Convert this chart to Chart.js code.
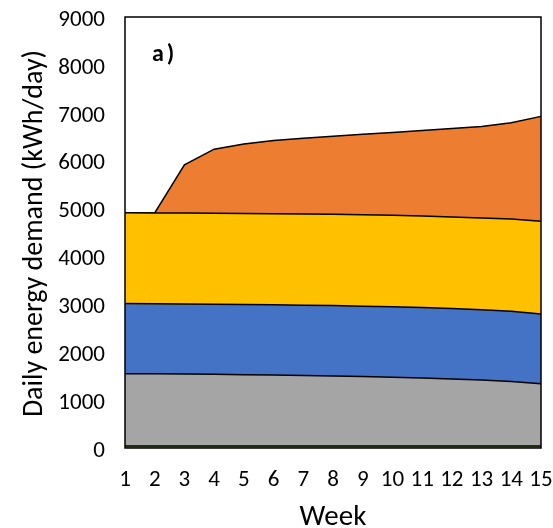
<!DOCTYPE html>
<html>
<head>
<meta charset="utf-8">
<script src="https://cdn.jsdelivr.net/npm/chart.js@4"></script>
<style>
html,body{margin:0;padding:0;background:#fff;}
#wrap{width:553px;height:528px;position:relative;}
</style>
</head>
<body>
<div id="wrap"><canvas id="c" width="553" height="528"></canvas></div>
<script>
// Week categories
const weeks = ['1','2','3','4','5','6','7','8','9','10','11','12','13','14','15'];
// Cumulative top of each stacked area (kWh/day)
const greenTop  = [40,40,40,40,40,40,40,40,40,40,40,40,40,40,40];
const grayTop   = [1550,1548,1545,1540,1532,1524,1515,1505,1492,1478,1462,1443,1420,1390,1340];
const blueTop   = [3015,3012,3008,3003,2997,2990,2983,2975,2962,2948,2932,2912,2888,2855,2800];
const yellowTop = [4910,4908,4905,4902,4898,4893,4888,4882,4872,4858,4843,4825,4805,4780,4735];
const orangeTop = [4910,4908,5915,6240,6350,6420,6470,6510,6550,6590,6630,6670,6715,6790,6925];
const yTicks = [0,1000,2000,3000,4000,5000,6000,7000,8000,9000];
const panelLabel = 'a)';
const yTitle = 'Daily energy demand (kWh/day)';
const xTitle = 'Week';

const FONT = 'Carlito, Calibri, Lato, "Open Sans", sans-serif';

function ds(data, color, fill){
  return {data, backgroundColor: color, borderColor:'#000', borderWidth:1.5,
    fill, pointRadius:0, tension:0};
}

const frame = {
  id:'frame',
  afterDraw(chart){
    const {ctx, chartArea:a} = chart;
    ctx.save();
    ctx.strokeStyle='#000'; ctx.lineWidth=1.5;
    ctx.strokeRect(a.left, a.top, a.right-a.left, a.bottom-a.top);
    ctx.fillStyle='#000';
    // panel label
    ctx.font='bold 24px '+FONT;
    try { ctx.letterSpacing='3px'; } catch(e) {}
    ctx.textBaseline='middle'; ctx.textAlign='left';
    ctx.fillText(panelLabel, a.left+27, a.top+38);
    try { ctx.letterSpacing='0px'; } catch(e) {}
    // x-axis title
    ctx.font='29px '+FONT;
    ctx.textAlign='center'; ctx.textBaseline='alphabetic';
    ctx.fillText(xTitle, (a.left+a.right)/2, 525);
    // y-axis title
    ctx.font='28px '+FONT;
    ctx.translate(42, (a.top+a.bottom)/2 + 1);
    ctx.rotate(-Math.PI/2);
    ctx.fillText(yTitle, 0, 0);
    ctx.restore();
  }
};

new Chart(document.getElementById('c'), {
  type:'line',
  data:{
    labels: weeks,
    datasets:[
      ds(greenTop,'#70AD47','origin'),
      ds(grayTop,'#A5A5A5','-1'),
      ds(blueTop,'#4472C4','-1'),
      ds(yellowTop,'#FFC000','-1'),
      ds(orangeTop,'#ED7D31','-1')
    ]
  },
  options:{
    responsive:false, animation:false,
    layout:{padding:{left:0,right:12,top:17,bottom:0}},
    plugins:{legend:{display:false}, tooltip:{enabled:false}},
    scales:{
      x:{
        offset:false,
        grid:{display:false, drawTicks:false},
        border:{display:false},
        ticks:{color:'#000', font:{family:FONT,size:23}, padding:18, maxRotation:0, autoSkip:false},
        title:{display:false},
        afterFit(s){ s.height = 80; s.paddingLeft = 0; s.paddingRight = 0; }
      },
      y:{
        min:0, max:9000,
        afterBuildTicks(s){ s.ticks = yTicks.map(v=>({value:v})); },
        grid:{display:false, drawTicks:false},
        border:{display:false},
        ticks:{color:'#000', font:{family:FONT,size:23}, padding:20, labelOffset:3, callback:v=>String(v)},
        title:{display:false},
        afterFit(s){ s.width = 125; s.paddingTop = 0; s.paddingBottom = 0; }
      }
    }
  },
  plugins:[frame]
});
</script>
</body>
</html>
